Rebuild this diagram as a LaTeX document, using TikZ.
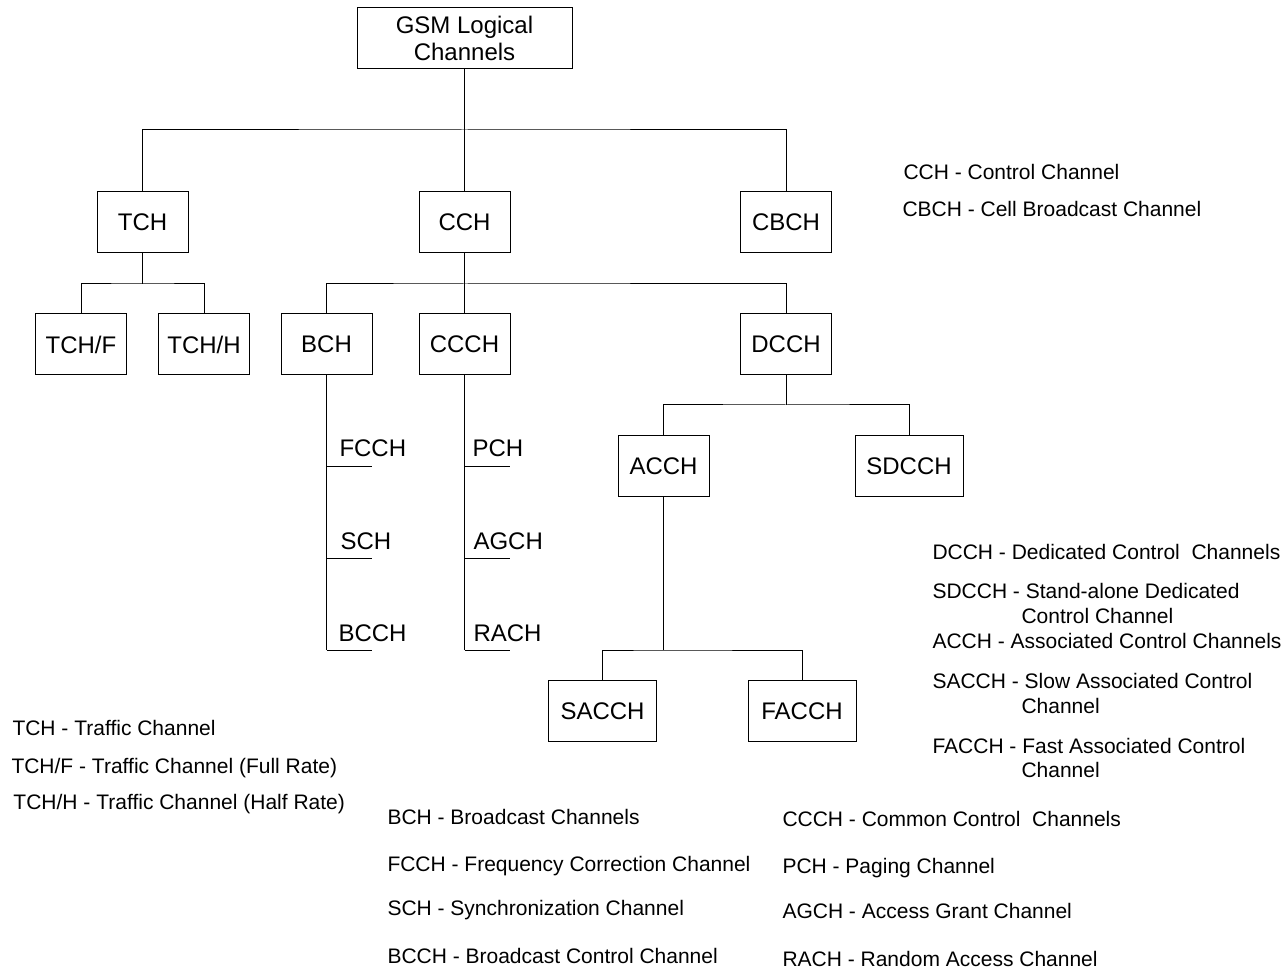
\documentclass[tikz,border=0pt]{standalone}
\usepackage{fontspec}
\setmainfont{Liberation Sans}
\begin{document}
\begin{tikzpicture}[x=0.75pt,y=-0.75pt,
  line width=0.75pt,
  chbox/.style={draw, inner sep=0pt, minimum width=68.25pt, minimum height=45.75pt,
    font=\fontsize{18}{20.5}\selectfont, align=center},
  widebox/.style={chbox, minimum width=81pt},
  sublabel/.style={anchor=base west, inner sep=0pt, font=\fontsize{18}{20.5}\selectfont},
  legend/.style={anchor=base west, inner sep=0pt, font=\fontsize{15.75}{18}\selectfont}]
\useasboundingbox (0,0) rectangle (1285,969);

% channel boxes
\node[chbox, minimum width=161.25pt] (gsm) at (464.5,38.5) {GSM Logical\\Channels};
\node[chbox] (tch)  at (142.5,222) {TCH};
\node[chbox] (cch)  at (464.5,222) {CCH};
\node[chbox] (cbch) at (786,222) {CBCH};
\node[chbox] (tchf) at (81,344.5) {TCH/F};
\node[chbox] (tchh) at (204,344.5) {TCH/H};
\node[chbox] (bch)  at (326.5,344.5) {BCH};
\node[chbox] (ccch) at (464.5,344.5) {CCCH};
\node[chbox] (dcch) at (786,344.5) {DCCH};
\node[chbox] (acch) at (663.5,466.5) {ACCH};
\node[widebox] (sdcch) at (909,466.5) {SDCCH};
\node[widebox] (sacch) at (602.5,711) {SACCH};
\node[widebox] (facch) at (802,711) {FACCH};

% tree buses
\coordinate (b1) at (464.5,130);
\coordinate (b2) at (142.5,284);
\coordinate (b3) at (464.5,284);
\coordinate (b4) at (786,405);
\coordinate (b5) at (663.5,650);

\draw (gsm.south) -- (cch.north);
\draw (tch.north) |- (b1) -| (cbch.north);
\draw (tch.south) -- (b2);
\draw (tchf.north) |- (b2) -| (tchh.north);
\draw (cch.south) -- (ccch.north);
\draw (bch.north) |- (b3) -| (dcch.north);
\draw (dcch.south) -- (b4);
\draw (acch.north) |- (b4) -| (sdcch.north);
\draw (acch.south) -- (b5);
\draw (sacch.north) |- (b5) -| (facch.north);

% BCH sub-channels
\coordinate (bt1) at (326.5,467);
\coordinate (bt2) at (326.5,558);
\coordinate (bt3) at (326.5,650);
\coordinate (be1) at (372,467);
\coordinate (be2) at (372,558);
\coordinate (be3) at (372,650);
\draw (bch.south) -- (bt3);
\draw (bt1) -- (be1);
\draw (bt2) -- (be2);
\draw (bt3) -- (be3);
\node[sublabel] (fcch) at (339,457) {FCCH};
\node[sublabel] (sch)  at (340,550) {SCH};
\node[sublabel] (bcch) at (338,641) {BCCH};

% CCCH sub-channels
\coordinate (ct1) at (464.5,467);
\coordinate (ct2) at (464.5,558);
\coordinate (ct3) at (464.5,650);
\coordinate (ce1) at (510,467);
\coordinate (ce2) at (510,558);
\coordinate (ce3) at (510,650);
\draw (ccch.south) -- (ct3);
\draw (ct1) -- (ce1);
\draw (ct2) -- (ce2);
\draw (ct3) -- (ce3);
\node[sublabel] (pch)  at (472,457) {PCH};
\node[sublabel] (agch) at (473,550) {AGCH};
\node[sublabel] (rach) at (473,641) {RACH};

% abbreviations
\node[legend] (l1) at (903,180) {CCH - Control Channel};
\node[legend] (l2) at (902,217) {CBCH - Cell Broadcast Channel};

\node[legend] (l3) at (932,559) {DCCH - Dedicated Control\ \ Channels};
\node[legend] (l4) at (932,598) {SDCCH - Stand-alone Dedicated};
\node[legend] (l4b) at (1021,623) {Control Channel};
\node[legend] (l5) at (932,648) {ACCH - Associated Control Channels};
\node[legend] (l6) at (932,688) {SACCH - Slow Associated Control};
\node[legend] (l6b) at (1021,713) {Channel};
\node[legend] (l7) at (932,753) {FACCH - Fast Associated Control};
\node[legend] (l7b) at (1021,777) {Channel};

\node[legend] (l8) at (12,735) {TCH - Traffic Channel};
\node[legend] (l9) at (11,773) {TCH/F - Traffic Channel (Full Rate)};
\node[legend] (l10) at (13,809) {TCH/H - Traffic Channel (Half Rate)};

\node[legend] (l11) at (387,824) {BCH - Broadcast Channels};
\node[legend] (l12) at (387,871) {FCCH - Frequency Correction Channel};
\node[legend] (l13) at (387,915) {SCH - Synchronization Channel};
\node[legend] (l14) at (387,963) {BCCH - Broadcast Control Channel};

\node[legend] (l15) at (782,826) {CCCH - Common Control\ \ Channels};
\node[legend] (l16) at (782,873) {PCH - Paging Channel};
\node[legend] (l17) at (782,918) {AGCH - Access Grant Channel};
\node[legend] (l18) at (782,966) {RACH - Random Access Channel};
\end{tikzpicture}
\end{document}
